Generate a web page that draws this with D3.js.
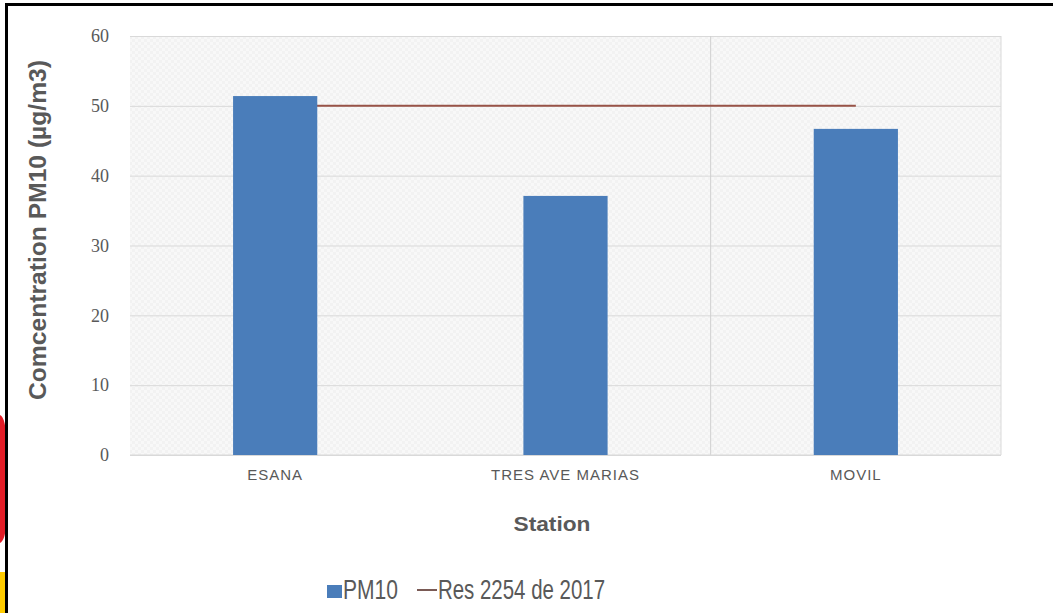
<!DOCTYPE html>
<html>
<head>
<meta charset="utf-8">
<script src="https://cdn.jsdelivr.net/npm/d3@7"></script>
<style>
  html, body { margin: 0; padding: 0; background: #fff; }
  svg { display: block; }
</style>
</head>
<body>
<svg id="chart" width="1053" height="613"></svg>
<script>
const categories = ["ESANA", "TRES AVE MARIAS", "MOVIL"];
const pm10Values = [51.4, 37.1, 46.7];
const limitValues = [50, 50, 50];
const yTicks = [0, 10, 20, 30, 40, 50, 60];
const seriesNames = ["PM10", "Res 2254 de 2017"];

const svg = d3.select("#chart");
const W = 1053, H = 613;
const plot = { left: 130, right: 1001, top: 36, bottom: 455 };

// decorative frame fragments
svg.append("path")
  .attr("d", "M0,415 Q6,418 6,440 L6,520 Q6,540 0,543 Z")
  .attr("fill", "#e21c26");
svg.append("rect").attr("x", 0).attr("y", 572).attr("width", 6).attr("height", 41).attr("fill", "#ffcc00");
svg.append("rect").attr("x", 5).attr("y", 3).attr("width", W - 5).attr("height", 3).attr("fill", "#000");
svg.append("rect").attr("x", 5).attr("y", 3).attr("width", 3).attr("height", H - 3).attr("fill", "#000");

const x = d3.scaleBand()
  .domain(categories)
  .range([plot.left, plot.right])
  .paddingInner(0.71)
  .paddingOuter(0.355);

const y = d3.scaleLinear().domain([0, 60]).range([plot.bottom, plot.top]);

// plot background with subtle pattern
const defs = svg.append("defs");
const pat = defs.append("pattern").attr("id", "hatch")
  .attr("width", 6).attr("height", 6).attr("patternUnits", "userSpaceOnUse");
pat.append("rect").attr("width", 6).attr("height", 6).attr("fill", "#f2f2f2");
pat.append("rect").attr("width", 3).attr("height", 3).attr("fill", "#f8f8f8");
pat.append("rect").attr("x", 3).attr("y", 3).attr("width", 3).attr("height", 3).attr("fill", "#f8f8f8");

svg.append("rect")
  .attr("x", plot.left).attr("y", plot.top)
  .attr("width", plot.right - plot.left).attr("height", plot.bottom - plot.top)
  .attr("fill", "url(#hatch)");

// horizontal gridlines + y ticks
const yAxis = d3.axisLeft(y).tickValues(yTicks)
  .tickSize(-(plot.right - plot.left)).tickPadding(21).tickFormat(d3.format("d"));
const gy = svg.append("g").attr("transform", `translate(${plot.left},0)`).call(yAxis);
gy.select(".domain").remove();
gy.selectAll(".tick line").attr("stroke", "#d9d9d9").attr("stroke-width", 1);
gy.selectAll(".tick text")
  .attr("fill", "#595959")
  .style("font-family", "'Liberation Serif', 'DejaVu Serif', serif")
  .style("font-size", "18px");

// vertical boundary lines
const step = x.step();
const bx = x("MOVIL") + x.bandwidth() / 2 - step / 2;
svg.append("line")
  .attr("x1", bx).attr("x2", bx)
  .attr("y1", plot.top).attr("y2", plot.bottom)
  .attr("stroke", "#d0d0d0");
svg.append("line")
  .attr("x1", plot.right).attr("x2", plot.right)
  .attr("y1", plot.top).attr("y2", plot.bottom)
  .attr("stroke", "#d9d9d9");
svg.append("line")
  .attr("x1", plot.left).attr("x2", plot.right)
  .attr("y1", plot.bottom).attr("y2", plot.bottom)
  .attr("stroke", "#d9d9d9");

// limit line (behind bars)
const line = d3.line()
  .x((d, i) => x(categories[i]) + x.bandwidth() / 2)
  .y(d => y(d));
svg.append("path")
  .datum(limitValues)
  .attr("d", line)
  .attr("fill", "none")
  .attr("stroke", "#985347")
  .attr("stroke-width", 2);

// bars
svg.selectAll("rect.bar")
  .data(pm10Values)
  .enter().append("rect")
  .attr("class", "bar")
  .attr("x", (d, i) => x(categories[i]))
  .attr("y", d => y(d))
  .attr("width", x.bandwidth())
  .attr("height", d => y(0) - y(d))
  .attr("fill", "#4a7dba");

// x axis labels
const xAxis = d3.axisBottom(x).tickSize(0).tickPadding(14);
const gx = svg.append("g").attr("transform", `translate(0,${plot.bottom})`).call(xAxis);
gx.select(".domain").remove();
gx.selectAll(".tick text")
  .attr("fill", "#595959")
  .style("font-family", "'Liberation Sans', Arial, sans-serif")
  .style("font-size", "15px")
  .style("letter-spacing", "1px");

// axis titles
svg.append("text")
  .attr("x", 552).attr("y", 531)
  .attr("text-anchor", "middle")
  .attr("fill", "#595959")
  .style("font-family", "'Liberation Sans', Arial, sans-serif")
  .style("font-weight", "bold")
  .style("font-size", "21px")
  .attr("textLength", 77)
  .attr("lengthAdjust", "spacingAndGlyphs")
  .text("Station");

svg.append("text")
  .attr("transform", "translate(46,230) rotate(-90)")
  .attr("text-anchor", "middle")
  .attr("fill", "#595959")
  .style("font-family", "'Liberation Sans', Arial, sans-serif")
  .style("font-weight", "bold")
  .style("font-size", "23px")
  .attr("textLength", 340)
  .attr("lengthAdjust", "spacingAndGlyphs")
  .text("Comcentration PM10 (µg/m3)");

// legend
const lg = svg.append("g");
lg.append("rect").attr("x", 327).attr("y", 585).attr("width", 15).attr("height", 13).attr("fill", "#4a7dba");
lg.append("text").attr("x", 343).attr("y", 599)
  .attr("fill", "#595959")
  .style("font-family", "'Liberation Sans', Arial, sans-serif")
  .style("font-size", "27px")
  .attr("textLength", 55)
  .attr("lengthAdjust", "spacingAndGlyphs")
  .text(seriesNames[0]);
lg.append("line").attr("x1", 417).attr("x2", 437).attr("y1", 590).attr("y2", 590)
  .attr("stroke", "#7a5a55").attr("stroke-width", 2);
lg.append("text").attr("x", 438).attr("y", 599)
  .attr("fill", "#595959")
  .style("font-family", "'Liberation Sans', Arial, sans-serif")
  .style("font-size", "27px")
  .attr("textLength", 167)
  .attr("lengthAdjust", "spacingAndGlyphs")
  .text(seriesNames[1]);
</script>
</body>
</html>
